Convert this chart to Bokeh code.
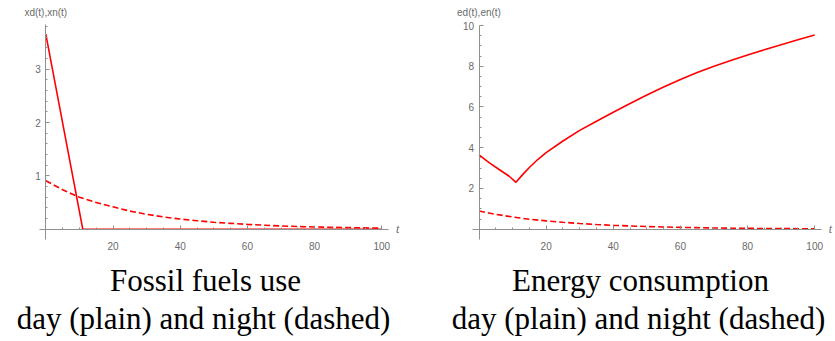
from bokeh.plotting import figure
from bokeh.models import LinearAxis, FixedTicker, Label, Range1d
from bokeh.layouts import row
from bokeh.embed import file_html
from bokeh.resources import INLINE

# ---- data ----
# Fossil fuels use
xd_t = [0, 11, 100]
xd_v = [3.66, 0.0, 0.0]
xn_t = [0, 5, 10, 15, 20, 25, 30, 35, 40, 45, 50, 55, 60, 65, 70, 75, 80, 85, 90, 95, 100]
xn_v = [0.91, 0.74, 0.60, 0.50, 0.42, 0.34, 0.28, 0.23, 0.19, 0.16, 0.13,
        0.11, 0.09, 0.075, 0.06, 0.05, 0.042, 0.035, 0.03, 0.025, 0.02]

# Energy consumption
ed_t = [0, 3, 6, 9, 11, 13, 15, 17.5, 20, 25, 30, 35, 40, 45, 50, 55, 60, 65, 70,
        75, 80, 85, 90, 95, 100]
ed_v = [3.65, 3.27, 2.93, 2.60, 2.30, 2.68, 3.03, 3.42, 3.76, 4.33, 4.85, 5.30,
        5.74, 6.17, 6.59, 6.98, 7.35, 7.69, 8.00, 8.28, 8.55, 8.81, 9.06, 9.30, 9.53]
en_t = [0, 5, 10, 15, 20, 25, 30, 35, 40, 45, 50, 55, 60, 65, 70, 75, 80, 85, 90, 95, 100]
en_v = [0.89, 0.73, 0.60, 0.49, 0.41, 0.34, 0.28, 0.23, 0.19, 0.16, 0.13,
        0.11, 0.09, 0.075, 0.06, 0.05, 0.042, 0.035, 0.03, 0.025, 0.02]

x_major = [20, 40, 60, 80, 100]
x_minor = [5, 10, 15, 25, 30, 35, 45, 50, 55, 65, 70, 75, 85, 90, 95]
left_y_major = [1, 2, 3]
left_y_minor = [0.2, 0.4, 0.6, 0.8, 1.2, 1.4, 1.6, 1.8, 2.2, 2.4, 2.6, 2.8, 3.2, 3.4, 3.6, 3.8]
right_y_major = [2, 4, 6, 8, 10]
right_y_minor = [0.5, 1, 1.5, 2.5, 3, 3.5, 4.5, 5, 5.5, 6.5, 7, 7.5, 8.5, 9, 9.5]

titles = ["Fossil fuels use", "Energy consumption"]
subtitle = "day (plain) and night (dashed)"
ylabels = ["xd(t),xn(t)", "ed(t),en(t)"]

RED = "#ff0000"
AXIS = "#8f8f8f"
TICKLBL = "#6a6a6a"
H = 341


def make_panel(width, xr, yr, ybounds, ymaj, ymin, day_t, day_v, night_t, night_v,
               ylabel, title, axis_px, caption_x):
    p = figure(width=width, height=H, x_range=Range1d(*xr), y_range=Range1d(*yr),
               x_axis_type=None, y_axis_type=None, toolbar_location=None,
               output_backend="svg", min_border=0, outline_line_color=None,
               background_fill_color="white", border_fill_color="white")

    xa = LinearAxis(fixed_location=0, bounds=(-2, 102),
                    ticker=FixedTicker(ticks=x_major, minor_ticks=x_minor))
    ya = LinearAxis(fixed_location=0, bounds=ybounds,
                    ticker=FixedTicker(ticks=ymaj, minor_ticks=ymin))
    for ax in (xa, ya):
        ax.axis_line_color = AXIS
        ax.axis_line_width = 1
        ax.major_tick_line_color = AXIS
        ax.minor_tick_line_color = AXIS
        ax.major_tick_in = 4
        ax.major_tick_out = 0
        ax.minor_tick_in = 2
        ax.minor_tick_out = 0
        ax.major_label_text_color = TICKLBL
        ax.major_label_text_font = "Liberation Sans"
        ax.major_label_text_font_size = "10px"
    xa.major_label_standoff = 13
    ya.major_label_standoff = 5
    p.add_layout(xa, "below")
    p.add_layout(ya, "left")

    p.line(night_t, night_v, line_color=RED, line_width=1.6, line_dash="6 3")
    p.line(day_t, day_v, line_color=RED, line_width=1.6)

    # axis labels (Mathematica style)
    p.add_layout(Label(x=axis_px, y=H - 12, x_units="screen", y_units="screen",
                       text=ylabel, text_align="center", text_baseline="middle",
                       text_font="Liberation Sans", text_font_size="10px",
                       text_color=TICKLBL))
    p.add_layout(Label(x=104.2, y=0, text="t", text_align="left",
                       text_baseline="middle", text_font="Liberation Serif",
                       text_font_style="italic", text_font_size="12px",
                       text_color=TICKLBL))

    # captions
    p.add_layout(Label(x=caption_x, y=H - 280, x_units="screen", y_units="screen",
                       text=title, text_align="center", text_baseline="alphabetic",
                       text_font="Liberation Serif", text_font_size="31px",
                       text_color="black"))
    p.add_layout(Label(x=caption_x - 2, y=H - 318, x_units="screen", y_units="screen",
                       text=subtitle, text_align="center", text_baseline="alphabetic",
                       text_font="Liberation Serif", text_font_size="31px",
                       text_color="black"))
    return p


# left panel: x=0 at 45.3px, 3.36px/unit; y=0 at 228.7px from top, 53.3px/unit
lx0, lsx = 45.3, 3.36
ly0, lsy = 228.7, 53.3
p1 = make_panel(418, (-lx0 / lsx, (418 - lx0) / lsx),
                (-(H - ly0) / lsy, ly0 / lsy), (-0.2, 3.84),
                left_y_major, left_y_minor, xd_t, xd_v, xn_t, xn_v,
                ylabels[0], titles[0], lx0, 205)

# right panel: x=0 at 60.5px, 3.357px/unit; y=0 at 228.7px, 20.37px/unit
rx0, rsx = 60.5, 3.357
ry0, rsy = 228.7, 20.37
p2 = make_panel(417, (-rx0 / rsx, (417 - rx0) / rsx),
                (-(H - ry0) / rsy, ry0 / rsy), (-0.5, 10),
                right_y_major, right_y_minor, ed_t, ed_v, en_t, en_v,
                ylabels[1], titles[1], rx0, 222)

layout = row(p1, p2, spacing=0)
open("out.html", "w").write(file_html(layout, INLINE))
